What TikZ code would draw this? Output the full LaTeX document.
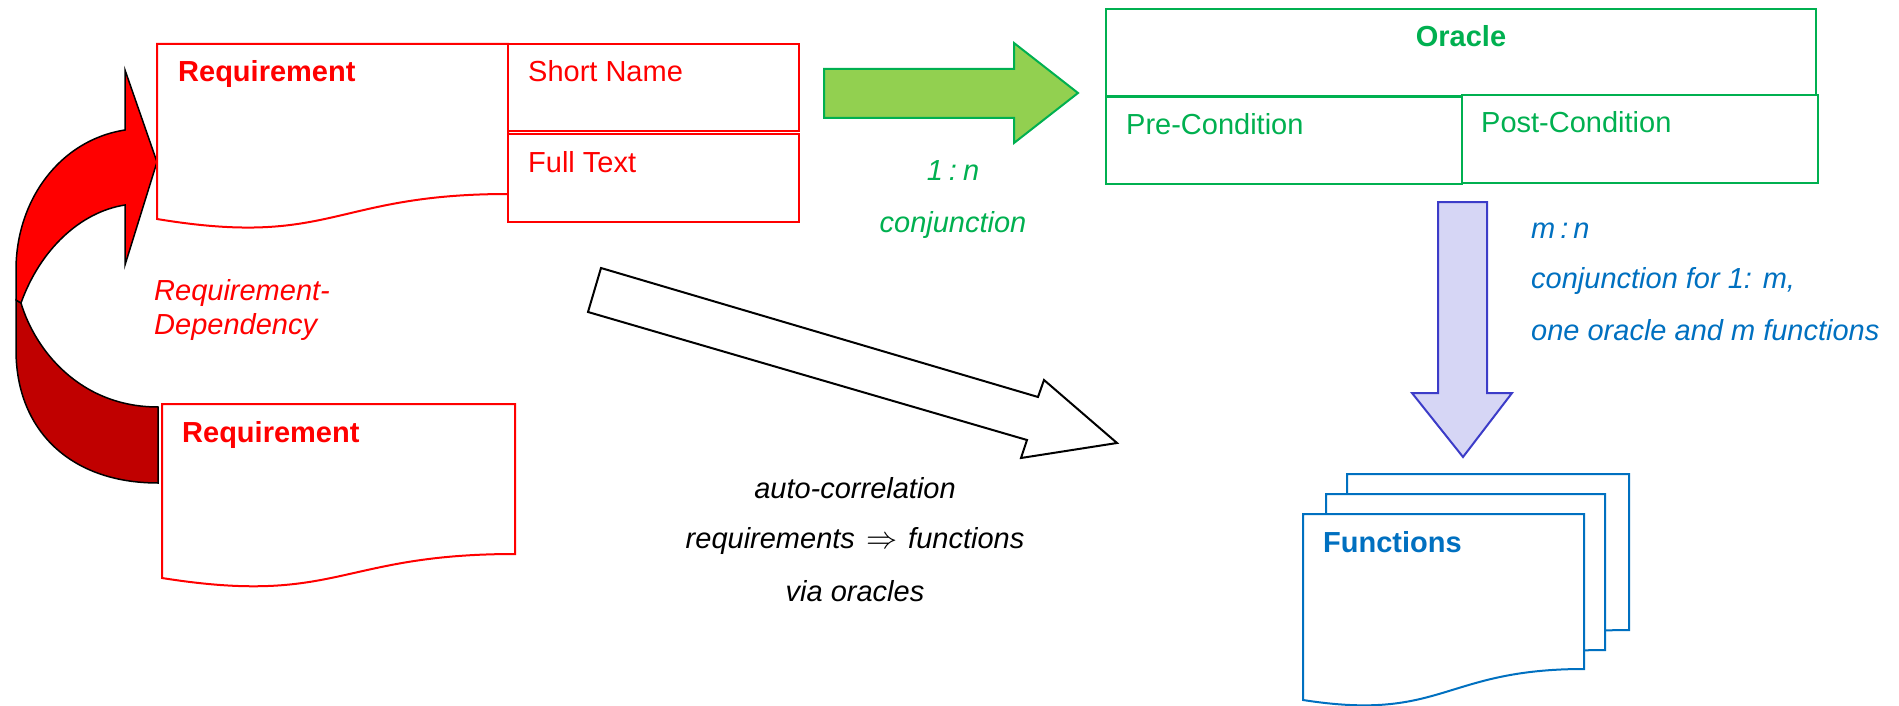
\documentclass[tikz,border=0pt]{standalone}
\usepackage{fontspec}
\setmainfont{Liberation Sans}
\definecolor{reqred}{RGB}{255,0,0}
\definecolor{depdark}{RGB}{192,0,0}
\definecolor{orgreen}{RGB}{0,176,80}
\definecolor{arrowgreen}{RGB}{146,208,80}
\definecolor{fnblue}{RGB}{0,112,192}
\definecolor{lavender}{RGB}{214,214,245}
\definecolor{lavedge}{RGB}{60,60,200}

\begin{document}
\begin{tikzpicture}[x=1pt,y=-1pt,
  txt/.style={inner sep=0pt, font=\fontsize{29}{34}\selectfont},
  lbl/.style={txt, anchor=base west},
  clbl/.style={txt, anchor=base},
  reqbox/.style={draw=reqred, line width=2pt, fill=white},
  orbox/.style={draw=orgreen, line width=2pt, fill=white},
  fnbox/.style={draw=fnblue, line width=2pt, fill=white},
  blockarrow/.style={line width=2pt, line join=miter},
  twist/.style={draw=black, line width=1.5pt}
]
\useasboundingbox (0,0) rectangle (1899,706);

% --- dependency arrow between the two requirements (twisted ribbon)
% back half, seen from behind
\path[twist, fill=depdark]
  (16,300) -- (21,303) .. controls (35,350) and (80,407) .. (158,407)
  -- (158,483) .. controls (70,483) and (16,430) .. (16,350) -- cycle;
% front half with the arrow head
\path[twist, fill=reqred]
  (125,130) .. controls (60,140) and (16,200) .. (16,270)
  -- (16,300) -- (21,303)
  .. controls (40,250) and (80,212) .. (125,205)
  -- (125,265) -- (157,162) -- (125,70) -- cycle;

% --- upper requirement: document shape plus two fields
\path[reqbox] (157,44) -- (508,44) -- (508,194)
  .. controls (332,194) and (332,248) .. (157,219) -- cycle;
\path[reqbox] (508,44) rectangle (799,131);
\path[reqbox] (508,134) rectangle (799,222);
\node[lbl, text=reqred, font=\fontsize{29}{34}\selectfont\bfseries] (req1) at (178,82) {Requirement};
\node[lbl, text=reqred] (short) at (528,82) {Short Name};
\node[lbl, text=reqred] (full) at (528,172) {Full Text};

% --- lower requirement
\path[reqbox] (162,404) -- (515,404) -- (515,554)
  .. controls (338,554) and (338,606) .. (162,578) -- cycle;
\node[lbl, text=reqred, font=\fontsize{29}{34}\selectfont\bfseries] (req2) at (182,442) {Requirement};

\node[lbl, text=reqred, font=\fontsize{29}{34}\selectfont\itshape] (dep1) at (154,300) {Requirement-};
\node[lbl, text=reqred, font=\fontsize{29}{34}\selectfont\itshape] (dep2) at (154,334) {Dependency};

% --- requirement -> oracle
\path[blockarrow, draw=orgreen, fill=arrowgreen]
  (824,69) -- (1014,69) -- (1014,43) -- (1078,93) -- (1014,143)
  -- (1014,118) -- (824,118) -- cycle;
\node[clbl, text=orgreen, font=\fontsize{29}{34}\selectfont\itshape] (card1) at (953,181) {1\hspace{6pt}:\hspace{6pt}n};
\node[clbl, text=orgreen, font=\fontsize{29}{34}\selectfont\itshape] (conj1) at (953,232) {conjunction};

% --- oracle
\path[orbox] (1106,9) rectangle (1816,96);
\path[orbox] (1106,97) rectangle (1462,184);
\path[orbox] (1462,95) rectangle (1818,183);
\node[clbl, text=orgreen, font=\fontsize{29}{34}\selectfont\bfseries] (oracle) at (1461,47) {Oracle};
\node[lbl, text=orgreen] (pre) at (1126,135) {Pre-Condition};
\node[lbl, text=orgreen] (post) at (1481,133) {Post-Condition};

% --- oracle -> functions
\path[blockarrow, draw=lavedge, fill=lavender]
  (1438,202) -- (1487,202) -- (1487,393) -- (1512,393) -- (1463,457)
  -- (1412,393) -- (1438,393) -- cycle;
\node[lbl, text=fnblue, font=\fontsize{29}{34}\selectfont\itshape] (card2) at (1531,238) {m\hspace{5pt}:\hspace{5pt}n};
\node[lbl, text=fnblue, font=\fontsize{29}{34}\selectfont\itshape] (conj2) at (1531,288) {conjunction for 1: m,};
\node[lbl, text=fnblue, font=\fontsize{29}{34}\selectfont\itshape] (conj3) at (1531,340) {one oracle and m functions};

% --- auto-correlation arrow
\path[blockarrow, draw=black, fill=white]
  (601,268) -- (1038,397) -- (1044,380) -- (1117,443) -- (1021,458)
  -- (1027,440) -- (588,312) -- cycle;
\node[clbl, font=\fontsize{29}{34}\selectfont\itshape] (auto1) at (855,498) {auto-correlation};
\node[clbl, font=\fontsize{29}{34}\selectfont\itshape] (auto2) at (855,548)
  {requirements\hspace{3pt} \scalebox{1.25}{$\Rightarrow$}\hspace{3pt} functions};
\node[clbl, font=\fontsize{29}{34}\selectfont\itshape] (auto3) at (855,601) {via oracles};

% --- stack of function documents
\path[fnbox] (1347,474) -- (1629,474) -- (1629,630)
  .. controls (1488,630) and (1488,680) .. (1347,660) -- cycle;
\path[fnbox] (1326,494) -- (1605,494) -- (1605,650)
  .. controls (1465,650) and (1465,700) .. (1326,680) -- cycle;
\path[fnbox] (1303,514) -- (1584,514) -- (1584,669)
  .. controls (1443,669) and (1443,722) .. (1303,700) -- cycle;
\node[lbl, text=fnblue, font=\fontsize{29}{34}\selectfont\bfseries] (fn) at (1323,552) {Functions};
\end{tikzpicture}
\end{document}
